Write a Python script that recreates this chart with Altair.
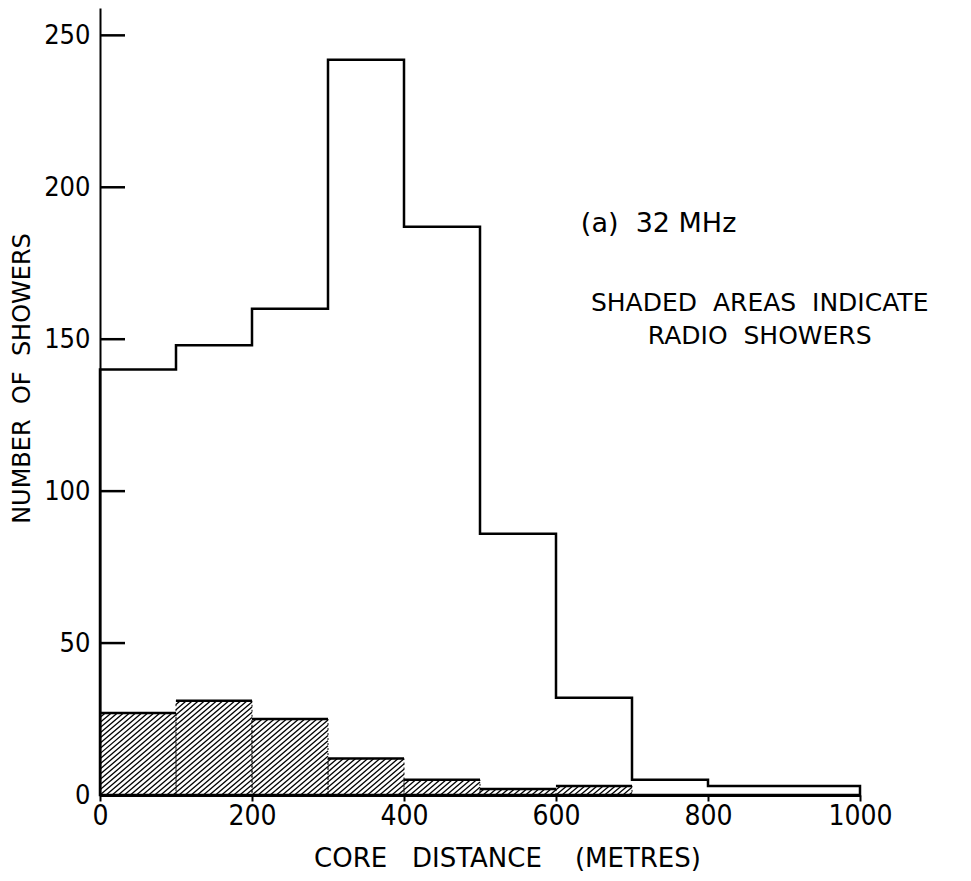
import altair as alt
import numpy as np
import pandas as pd

# Histogram of shower counts against core distance (100 m bins)
bin_left = [0, 100, 200, 300, 400, 500, 600, 700, 800, 900]
bin_width = 100
all_showers = [140, 148, 160, 242, 187, 86, 32, 5, 3, 3]
radio_showers = [27, 31, 25, 12, 5, 2, 3, 0, 0, 0]
y_ticks = [0, 50, 100, 150, 200, 250]
x_ticks = [0, 200, 400, 600, 800, 1000]

NUM_FONT = "DejaVu Sans Condensed, DejaVu Sans, sans-serif"
TXT_FONT = "DejaVu Sans, sans-serif"
SP = "\u00a0"
W, H = 760, 787
Y_MAX = 259

# outline of the total histogram, drawn as a stepped area
outline = pd.DataFrame({
    "x": bin_left + [bin_left[-1] + bin_width],
    "n": all_showers + [all_showers[-1]],
})

shaded = pd.DataFrame({
    "x0": bin_left,
    "x1": [b + bin_width for b in bin_left],
    "n": radio_showers,
})
shaded = shaded[shaded["n"] > 0]

# diagonal hatching clipped to each shaded bar
run = 4.7      # metres of core distance per shower along a hatch line
step = 8.0     # horizontal gap between hatch lines, metres
segs = []
for _, r in shaded.iterrows():
    x0, x1, h = r["x0"], r["x1"], r["n"]
    c = np.floor((x0 - run * h) / step) * step
    while c <= x1:
        ya = max(0.0, (x0 - c) / run)
        yb = min(h, (x1 - c) / run)
        if yb > ya:
            segs.append({"xa": c + run * ya, "ya": ya, "xb": c + run * yb, "yb": yb})
        c += step
hatch = pd.DataFrame(segs)

xs = alt.Scale(domain=[0, 1000], nice=False, zero=False)
ys = alt.Scale(domain=[0, Y_MAX], nice=False)

x_axis = alt.Axis(
    values=x_ticks, format="d", grid=False, labelFlush=False,
    title=f"CORE{SP*3}DISTANCE{SP*4}(METRES)",
    domainColor="black", domainWidth=3, tickColor="black", tickWidth=2, tickSize=6,
    labelFont=NUM_FONT, labelFontSize=28, labelColor="black", labelPadding=1,
    titleFont=TXT_FONT, titleFontSize=26, titleFontWeight="normal", titleColor="black",
    titleX=407, titleY=63, titleBaseline="middle", titleAlign="center",
)
y_axis = alt.Axis(
    values=y_ticks, grid=False, ticks=False, labelFlush=False,
    title=f"NUMBER{SP*2}OF{SP*2}SHOWERS",
    domainColor="black", domainWidth=2,
    labelFont=NUM_FONT, labelFontSize=27, labelColor="black", labelPadding=10,
    titleFont=TXT_FONT, titleFontSize=24, titleFontWeight="normal", titleColor="black",
    titleX=-78, titleY=370, titleBaseline="middle", titleAlign="center", titleAngle=270,
)

hatch_layer = alt.Chart(hatch).mark_rule(color="black", strokeWidth=1.3).encode(
    x=alt.X("xa:Q", scale=xs, axis=x_axis),
    y=alt.Y("ya:Q", scale=ys, axis=y_axis),
    x2="xb:Q",
    y2="yb:Q",
)

shaded_sides = alt.Chart(shaded).mark_bar(
    fillOpacity=0, stroke="black", strokeWidth=1, strokeDash=[2, 3]
).encode(x=alt.X("x0:Q", scale=xs), x2="x1:Q", y=alt.Y("n:Q", scale=ys), y2=alt.datum(0))

shaded_tops = alt.Chart(shaded).mark_rule(color="black", strokeWidth=2.5).encode(
    x=alt.X("x0:Q", scale=xs), x2="x1:Q", y=alt.Y("n:Q", scale=ys)
)

total = alt.Chart(outline).mark_area(
    interpolate="step-after", fillOpacity=0, stroke="black", strokeWidth=2.5
).encode(x=alt.X("x:Q", scale=xs), y=alt.Y("n:Q", scale=ys))

y_tick_marks = alt.Chart(pd.DataFrame({"v": y_ticks[1:]})).mark_rule(
    color="black", strokeWidth=2.5
).encode(y=alt.Y("v:Q", scale=ys), x=alt.value(0), x2=alt.value(25))

notes = pd.DataFrame({
    "x": [735, 868, 868],
    "y": [188, 162, 151],
    "t": [f"(a){SP*2}32{SP}MHz",
          f"SHADED{SP*2}AREAS{SP*2}INDICATE",
          f"RADIO{SP*2}SHOWERS"],
    "s": [27, 25, 25],
})
notes_layer = alt.Chart(notes).mark_text(
    font=TXT_FONT, color="black", baseline="middle", align="center"
).encode(
    x=alt.X("x:Q", scale=xs), y=alt.Y("y:Q", scale=ys), text="t:N",
    size=alt.Size("s:Q", scale=None, legend=None),
)

chart = alt.layer(
    hatch_layer, shaded_sides, shaded_tops, total, y_tick_marks, notes_layer
).properties(
    width=W, height=H,
    padding={"left": 100, "top": 8, "right": 111, "bottom": 86},
    autosize=alt.AutoSizeParams(type="none"),
    background="white",
).configure_view(stroke=None)

chart.save("out.html", embed_options={"renderer": "svg", "actions": False})
